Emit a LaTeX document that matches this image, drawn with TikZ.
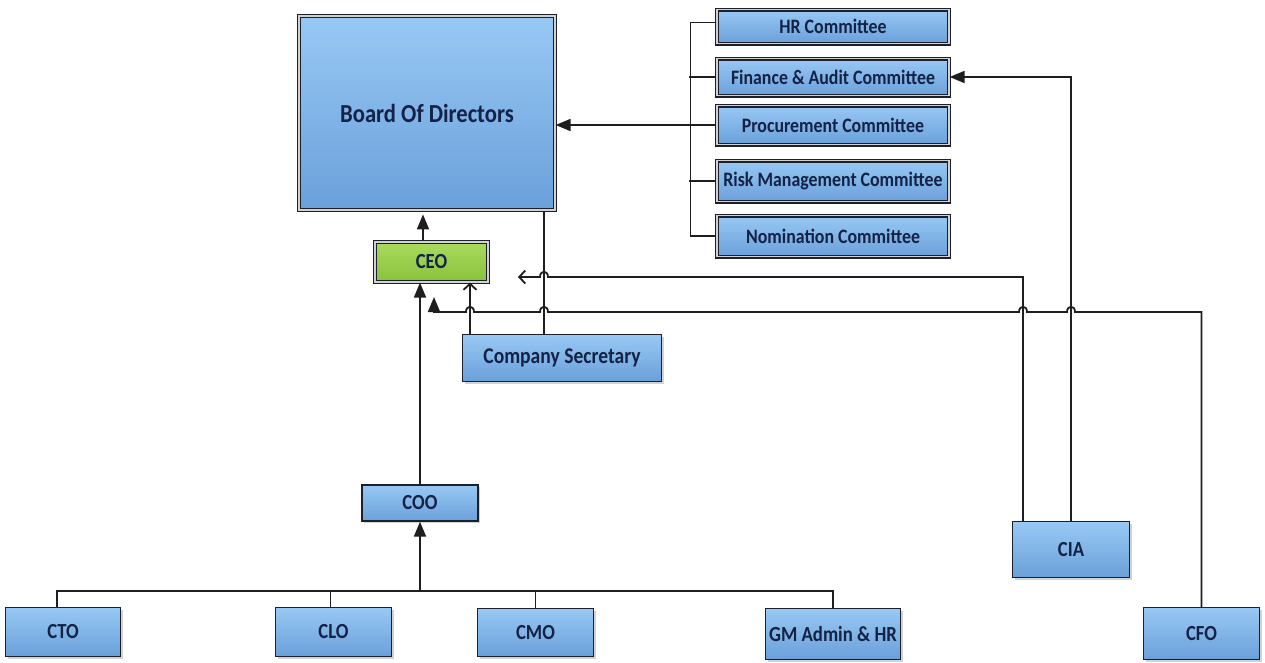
\documentclass[tikz,border=0pt]{standalone}
\usepackage{fontspec}
\setmainfont{Carlito}[FakeStretch=0.87]
\usetikzlibrary{arrows.meta,shadows}
\definecolor{bxtop}{RGB}{152,200,244}
\definecolor{bxbot}{RGB}{106,160,218}
\definecolor{grtop}{RGB}{170,218,94}
\definecolor{grbot}{RGB}{136,194,60}
\definecolor{txt}{RGB}{20,34,70}
\definecolor{ln}{RGB}{30,30,30}
\definecolor{edge}{RGB}{28,32,42}
\tikzset{
  box/.style={draw=edge, line width=1.3pt, top color=bxtop, bottom color=bxbot,
    inner sep=0pt, text=txt, font=\fontsize{21.5}{26}\selectfont\bfseries,
    drop shadow={shadow xshift=2pt, shadow yshift=-2pt, opacity=0.35, fill=gray}},
  dbox/.style={box, line width=1.2pt, double=gray!35, double distance=1.6pt},
  cbox/.style={dbox, font=\fontsize{20.5}{24}\selectfont\bfseries, minimum width=232pt},
  gbox/.style={dbox, top color=grtop, bottom color=grbot},
  conn/.style={draw=ln, line width=1.8pt},
  arr/.style={-{Triangle[length=15pt,width=12pt]}},
  oarr/.style={-{Straight Barb[length=6pt,width=13pt]}}
}
\begin{document}
\begin{tikzpicture}[x=1pt,y=-1pt]
\useasboundingbox[fill=white] (0,0) rectangle (1265,662);

% nodes
\node[dbox, minimum width=256pt, minimum height=194pt, font=\fontsize{26}{30}\selectfont\bfseries] (Board) at (427,113) {Board Of Directors};
\node[gbox, minimum width=113pt, minimum height=40pt] (CEO) at (431.5,262) {CEO};
\node[box, minimum width=199pt, minimum height=47pt, font=\fontsize{22.5}{26}\selectfont\bfseries] (CS) at (562,358) {Company Secretary};

\node[cbox, minimum height=34pt] (HR) at (833,26.5) {HR Committee};
\node[cbox, minimum height=37pt] (Fin) at (833,77) {Finance \& Audit Committee};
\node[cbox, minimum height=39pt] (Proc) at (833,125) {Procurement Committee};
\node[cbox, minimum height=41pt] (Risk) at (833,181) {Risk Management Committee};
\node[cbox, minimum height=41pt] (Nom) at (833,236) {Nomination Committee};

\node[box, minimum width=116pt, minimum height=36pt] (COO) at (420,503) {COO};
\node[box, minimum width=115pt, minimum height=49pt] (CTO) at (63,632) {CTO};
\node[box, minimum width=116pt, minimum height=49pt] (CLO) at (333.5,632) {CLO};
\node[box, minimum width=116pt, minimum height=48pt] (CMO) at (535.5,632.5) {CMO};
\node[box, minimum width=135pt, minimum height=51pt] (GM) at (833,634) {GM Admin \& HR};
\node[box, minimum width=117pt, minimum height=56pt] (CIA) at (1071,549.5) {CIA};
\node[box, minimum width=116pt, minimum height=52pt] (CFO) at (1201.5,633.5) {CFO};

% helper coordinates
\coordinate (bx) at (689,0);
\coordinate (bus) at (420,591);
\coordinate (ciaend) at (518,277);
\coordinate (cfoend) at (434,297);

% committees bracket
\draw[conn] (HR.west) ++(0,-4) -- ++(-26,0) coordinate (bt) -- (bt |- Nom.west) -- (Nom.west);
\draw[conn] (Fin.west) -- (Fin.west -| bx);
\draw[conn] (Risk.west) -- (Risk.west -| bx);
\draw[conn,arr] (Proc.west) -- (Proc.west -| Board.east);

% CEO -> Board
\draw[conn,arr] (CEO.north -| COO.north) ++(3,0) -- ++(0,-27);
% COO -> CEO
\draw[conn,arr] (COO.north) -- (COO.north |- CEO.south);
% bus to COO
\draw[conn,arr] (bus) -- (COO.south);
\draw[conn] ([xshift=-6pt]CTO.north) -- ([xshift=-6pt]CTO.north |- bus) -- (GM.north |- bus) -- (GM.north);
\draw[conn] ([xshift=-3pt]CLO.north) -- ([xshift=-3pt]CLO.north |- bus);
\draw[conn] (CMO.north) -- (CMO.north |- bus);

% Company Secretary links
\draw[conn,oarr] ([xshift=-92pt]CS.north) -- ([xshift=-92pt]CS.north |- CEO.south);
\draw[conn] ([xshift=-18pt]CS.north) -- ([xshift=-18pt]CS.north |- Board.south);

% CIA links
\draw[conn,arr] (CIA.north) |- (Fin.east);
\draw[conn,oarr] ([xshift=-48pt]CIA.north) |- (548,277)
  .. controls (548,270) and (540,270) .. (540,277) -- (ciaend);

% CFO link
\draw[conn,arr] (CFO.north) |- (1075,312)
  .. controls (1075,305) and (1067,305) .. (1067,312) -- (1027,312)
  .. controls (1027,305) and (1019,305) .. (1019,312) -- (548,312)
  .. controls (548,305) and (540,305) .. (540,312) -- (474,312)
  .. controls (474,305) and (466,305) .. (466,312) -- (434,312) -- (cfoend);
\end{tikzpicture}
\end{document}
